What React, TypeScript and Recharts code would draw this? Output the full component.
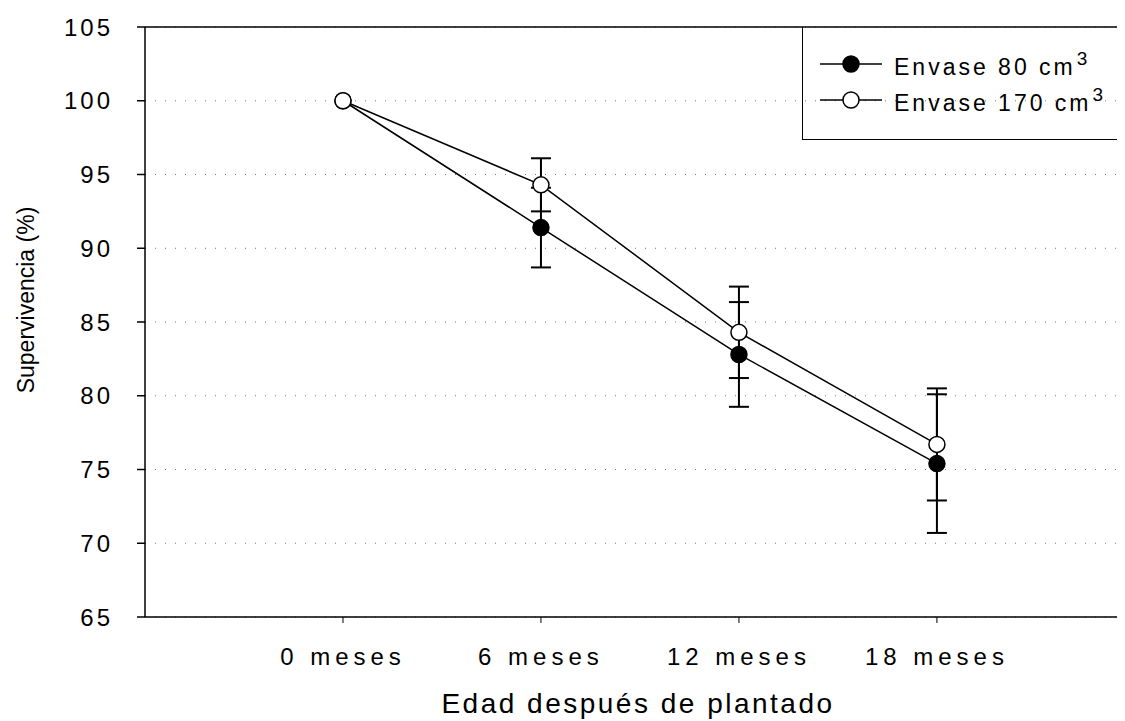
import {
  CartesianGrid,
  ComposedChart,
  ErrorBar,
  Legend,
  Line,
  ReferenceLine,
  XAxis,
  YAxis,
} from 'recharts';

const categories = ['0 meses', '6 meses', '12 meses', '18 meses'];
const envase80 = [100, 91.4, 82.8, 75.4];
const envase80Err = [0, 2.7, 3.55, 4.7];
const envase170 = [100, 94.3, 84.3, 76.7];
const envase170Err = [0, 1.8, 3.1, 3.8];
const yTicks = [65, 70, 75, 80, 85, 90, 95, 100, 105];

const data = categories.map((name, i) => ({
  idx: i,
  name,
  e80: envase80[i],
  e80Err: envase80Err[i],
  e170: envase170[i],
  e170Err: envase170Err[i],
}));

const FONT = '"Liberation Sans", Arial, sans-serif';

function YLabel() {
  return (
    <text
      x={26}
      y={292}
      transform="rotate(-90, 26, 292)"
      textAnchor="middle"
      fontSize={23}
      fontFamily={FONT}
      fill="#000"
    >
      Supervivencia (%)
    </text>
  );
}

function XLabel() {
  return (
    <text x={630} y={705} textAnchor="middle" fontSize={28} fontFamily={FONT} fill="#000" style={{ letterSpacing: 2.5 }}>
      Edad después de plantado
    </text>
  );
}

function Marker({ filled }: { filled: boolean }) {
  return (
    <svg width={62} height={20} style={{ display: 'block' }}>
      <line x1={0} y1={10} x2={62} y2={10} stroke="#000" strokeWidth={1.5} />
      <circle cx={31} cy={10} r={8} fill={filled ? '#000' : '#fff'} stroke="#000" strokeWidth={1.5} />
    </svg>
  );
}

function LegendBox() {
  const row = (filled: boolean, label: string) => (
    <div style={{ display: 'flex', alignItems: 'center', height: 36 }}>
      <Marker filled={filled} />
      <span style={{ marginLeft: 12, fontSize: 23, letterSpacing: 3, fontFamily: FONT, color: '#000', whiteSpace: 'nowrap' }}>
        {label}
        <sup style={{ fontSize: 19, verticalAlign: 10, marginLeft: 1 }}>3</sup>
      </span>
    </div>
  );
  return (
    <div
      style={{
        boxSizing: 'border-box',
        width: 323,
        height: 113,
        borderLeft: '1.5px solid #000',
        borderBottom: '1.5px solid #000',
        padding: '19px 0 0 17px',
      }}
    >
      {row(true, 'Envase 80 cm')}
      {row(false, 'Envase 170 cm')}
    </div>
  );
}

export default function App() {
  return (
    <ComposedChart width={1117} height={713} data={data} margin={{ top: 19, right: 0, left: 0, bottom: 0 }}>
      <CartesianGrid vertical={false} stroke="#777" strokeDasharray="1 9" />
      <XAxis
        dataKey="idx"
        type="number"
        domain={[-1, 3.95]}
        ticks={[0, 1, 2, 3]}
        allowDataOverflow
        tickFormatter={(v: number) => categories[v] ?? ''}
        tick={{ fontSize: 24, fill: '#000', fontFamily: FONT, style: { letterSpacing: 5 } }}
        tickLine={{ stroke: '#000', strokeWidth: 1 }}
        tickSize={6}
        tickMargin={25}
        axisLine={{ stroke: '#000', strokeWidth: 1.5 }}
        height={104}
        label={<XLabel />}
      />
      <YAxis
        type="number"
        domain={[65, 105]}
        ticks={yTicks}
        width={137}
        tick={{ fontSize: 24, fill: '#000', fontFamily: FONT, style: { letterSpacing: 3 } }}
        tickLine={{ stroke: '#000', strokeWidth: 1.5 }}
        tickSize={8}
        tickMargin={24}
        axisLine={{ stroke: '#000', strokeWidth: 1.5 }}
        label={<YLabel />}
      />
      <ReferenceLine y={105} stroke="#000" strokeWidth={1.5} />
      <Legend
        layout="horizontal"
        verticalAlign="middle"
        align="center"
        content={() => <LegendBox />}
        wrapperStyle={{ left: 794, top: 19, width: 323, height: 113 }}
      />
      <Line
        dataKey="e80"
        stroke="#000"
        strokeWidth={1.5}
        dot={{ r: 8, fill: '#000', stroke: '#000', strokeWidth: 1.5 }}
        isAnimationActive={false}
      >
        <ErrorBar dataKey="e80Err" direction="y" width={10} stroke="#000" strokeWidth={2} />
      </Line>
      <Line
        dataKey="e170"
        stroke="#000"
        strokeWidth={1.5}
        dot={{ r: 8, fill: '#fff', stroke: '#000', strokeWidth: 1.5 }}
        isAnimationActive={false}
      >
        <ErrorBar dataKey="e170Err" direction="y" width={10} stroke="#000" strokeWidth={2} />
      </Line>
    </ComposedChart>
  );
}
